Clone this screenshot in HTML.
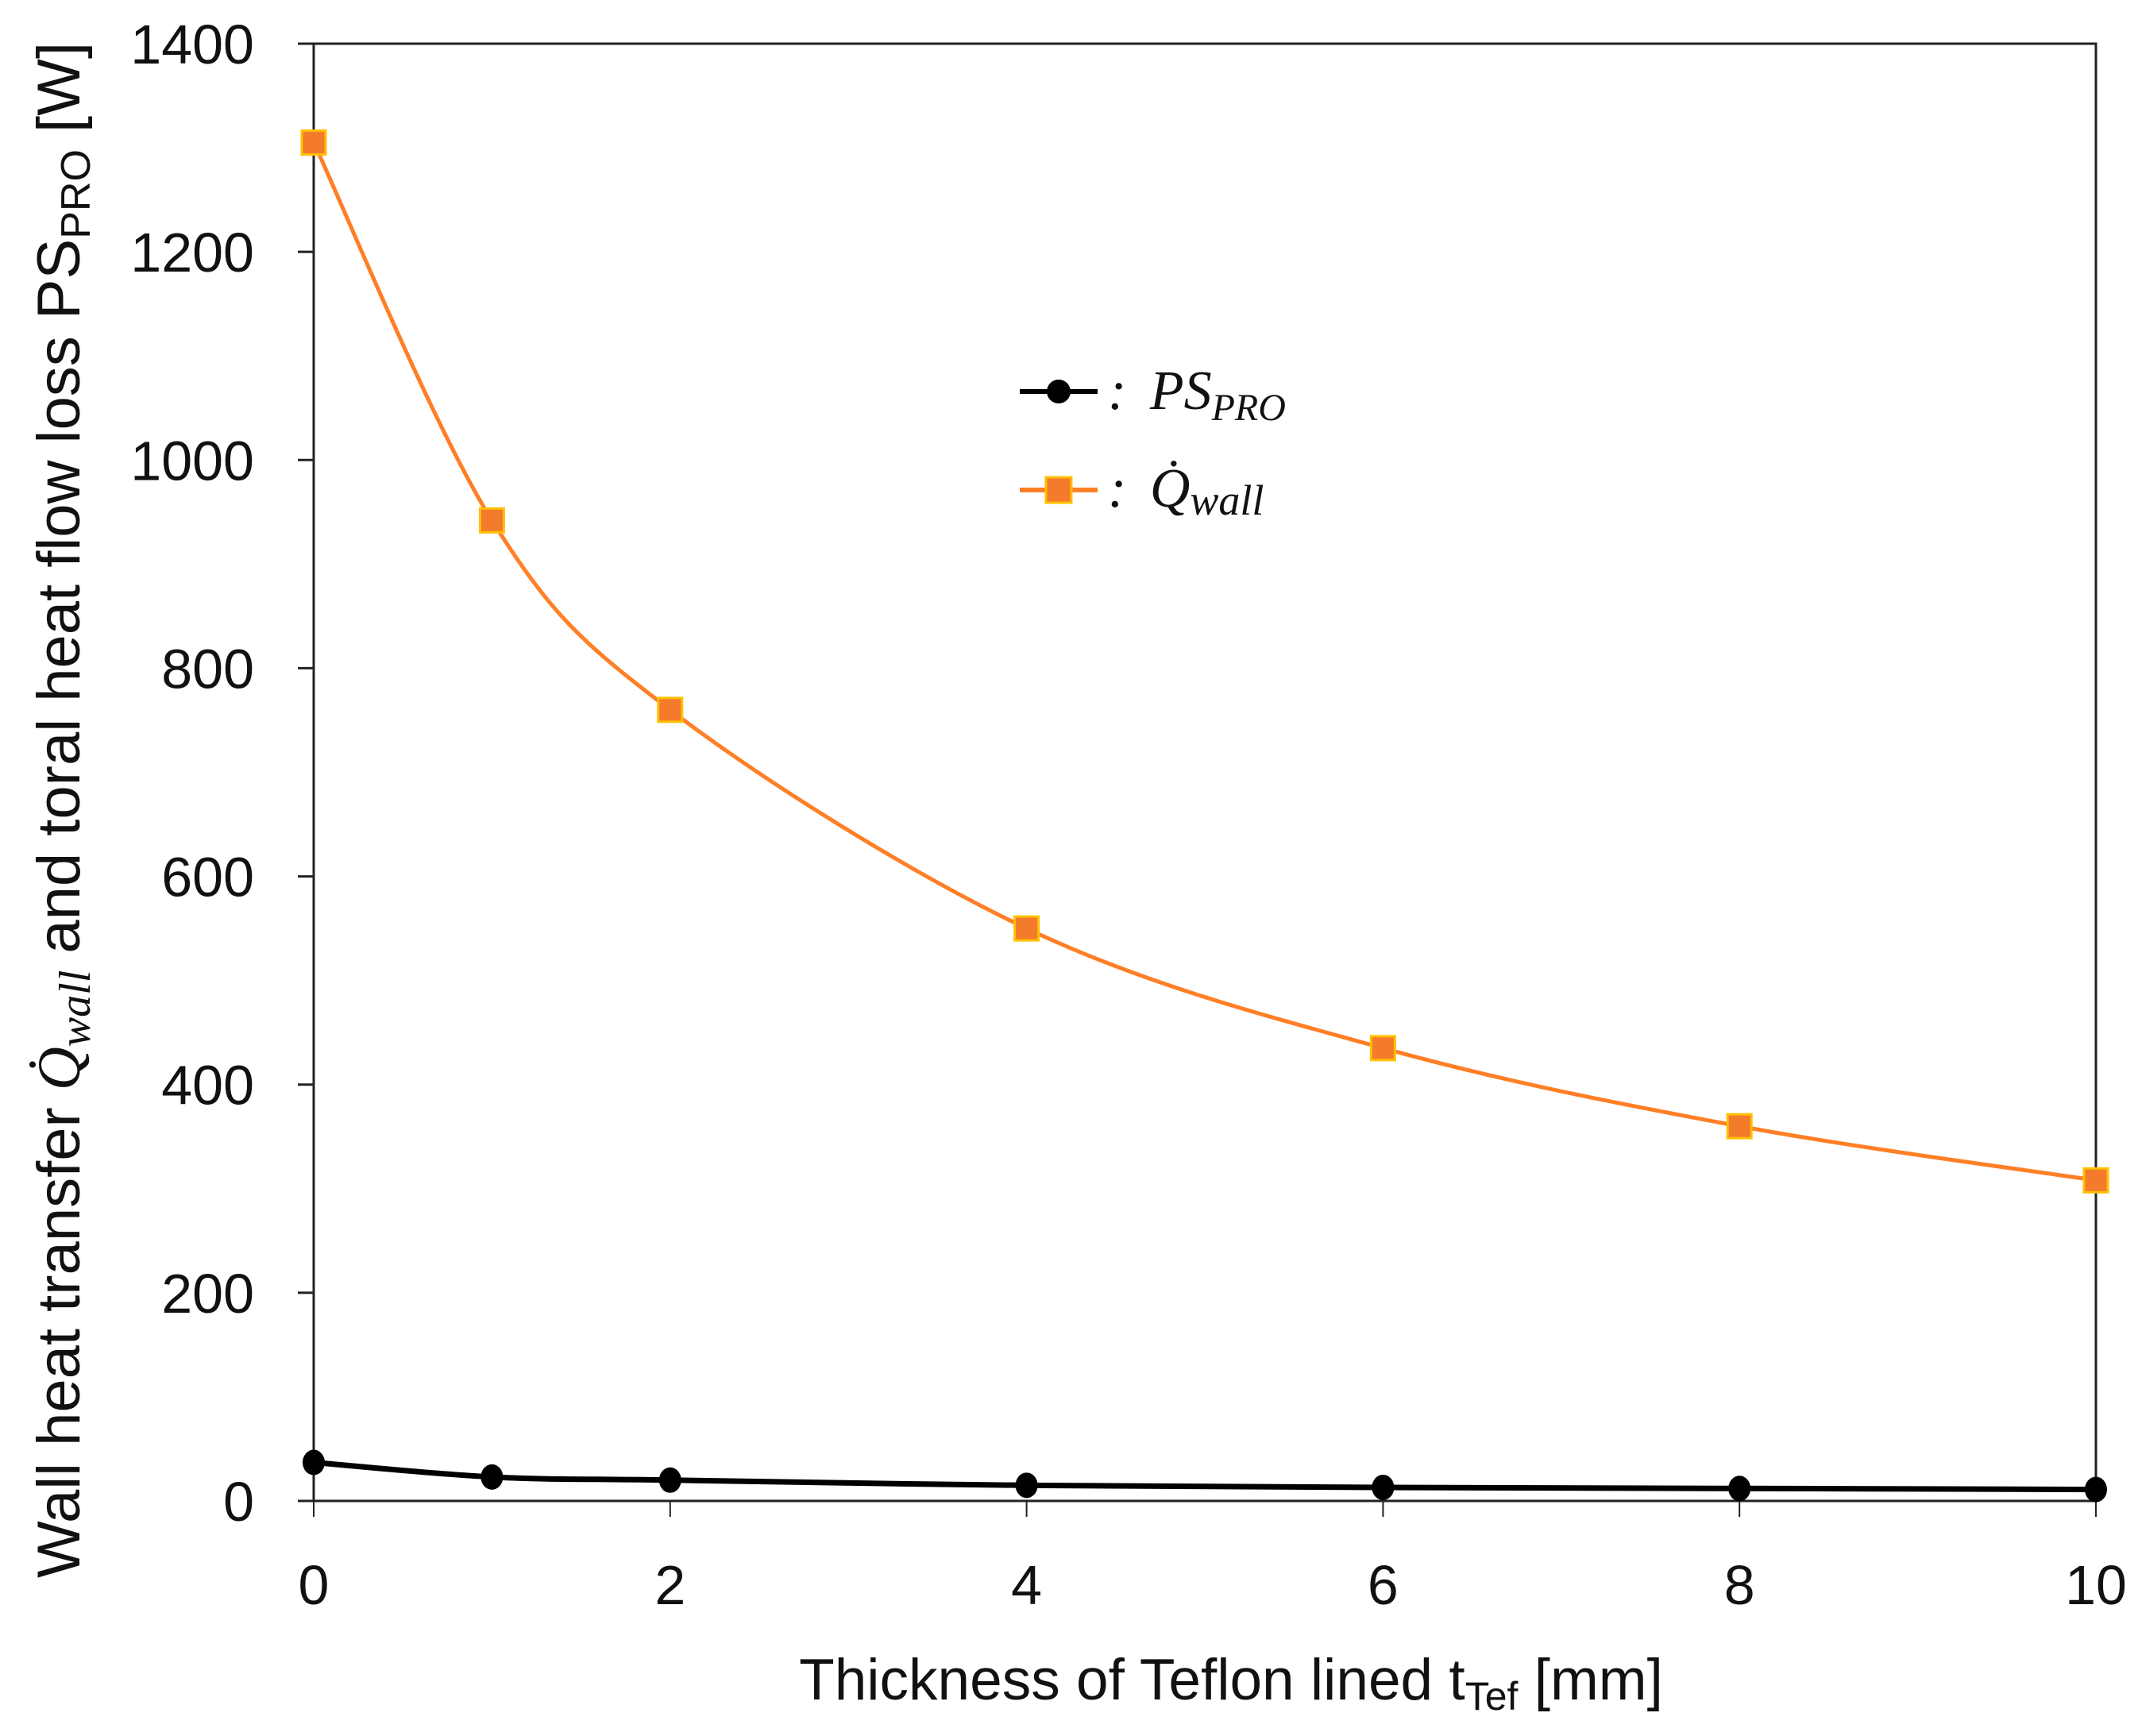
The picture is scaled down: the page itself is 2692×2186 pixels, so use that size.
<!DOCTYPE html>
<html><head><meta charset="utf-8"><style>
html,body{margin:0;padding:0;background:#fff;}
svg{display:block;}
text{font-family:"Liberation Sans",sans-serif;fill:#111;}
</style></head><body>
<svg id="chart" width="2692" height="2186" viewBox="0 0 2692 2186" xmlns="http://www.w3.org/2000/svg">
<rect x="0" y="0" width="2692" height="2186" fill="#fff"/>
<g id="axes"></g>
<g id="series"></g>
<g id="legend">
  <line x1="1284" y1="493" x2="1382" y2="493" stroke="#000" stroke-width="6"/>
  <circle cx="1333" cy="493" r="15" fill="#000"/>
  <text x="1395" y="515" style="font-family:'Liberation Serif',serif;font-size:70px;font-style:italic">: <tspan dx="12">PS</tspan><tspan dy="14" font-size="48">PRO</tspan></text>
  <line x1="1284" y1="617" x2="1382" y2="617" stroke="#ff7f27" stroke-width="6"/>
  <rect x="1317" y="601" width="32" height="32" fill="#f47a2c" stroke="#ffc000" stroke-width="3"/>
  <text x="1395" y="638" style="font-family:'Liberation Serif',serif;font-size:70px;font-style:italic">: <tspan dx="12">Q̇</tspan><tspan dy="10" font-size="54">wall</tspan></text>
</g>
<text x="1550" y="2140" text-anchor="middle" font-size="73">Thickness of Teflon lined t<tspan dy="13" font-size="50">Tef</tspan><tspan dy="-13"> [mm]</tspan></text>
<text transform="translate(100,1020) rotate(-90)" text-anchor="middle" font-size="76">Wall heat transfer <tspan style="font-family:'Liberation Serif',serif;font-style:italic">Q̇</tspan><tspan dy="13" font-size="56" style="font-family:'Liberation Serif',serif;font-style:italic">wall</tspan><tspan dy="-13"> and  toral heat flow loss  PS</tspan><tspan dy="13" font-size="52">PRO</tspan><tspan dy="-13"> [W]</tspan></text>
</svg>
<script>
const xValues = [0, 1, 2, 4, 6, 8, 10];
const qWall = [1305, 942, 760, 550, 435, 360, 308];
const psPro = [37, 23, 20, 15, 13, 12, 11];
const xTicks = [0, 2, 4, 6, 8, 10];
const yTicks = [0, 200, 400, 600, 800, 1000, 1200, 1400];

const L = 395, R = 2639, T = 55, B = 1890;
const xMin = 0, xMax = 10, yMin = 0, yMax = 1400;
const sx = v => L + (v - xMin) / (xMax - xMin) * (R - L);
const sy = v => B - (v - yMin) / (yMax - yMin) * (B - T);
const NS = "http://www.w3.org/2000/svg";
function mk(tag, attrs, parent) {
  const e = document.createElementNS(NS, tag);
  for (const k in attrs) e.setAttribute(k, attrs[k]);
  parent.appendChild(e);
  return e;
}
const axes = document.getElementById('axes');
const frame = mk('rect', {x: L, y: T, width: R - L, height: B - T, fill: 'none', stroke: '#222', 'stroke-width': 3}, axes);


yTicks.forEach(v => {
  const t = mk('line', {x1: L - 20, x2: L, y1: sy(v), y2: sy(v), stroke: '#222', 'stroke-width': 3}, axes);
  
  
  const lb = mk('text', {x: L - 75, y: sy(v) + 25, 'text-anchor': 'end', 'font-size': 70}, axes);
  lb.textContent = v;
  
  
});
xTicks.forEach(v => {
  const t = mk('line', {x1: sx(v), x2: sx(v), y1: B, y2: B + 20, stroke: '#222', 'stroke-width': 2}, axes);
  
  
  const lb = mk('text', {x: sx(v), y: 2020, 'text-anchor': 'middle', 'font-size': 70}, axes);
  lb.textContent = v;
  
  
});
function smoothPath(xs, ys) {
  const p = xs.map((x, i) => [sx(x), sy(ys[i])]);
  let d = `M${p[0][0]},${p[0][1]}`;
  for (let i = 0; i < p.length - 1; i++) {
    const p0 = p[i - 1] || p[i], p1 = p[i], p2 = p[i + 1], p3 = p[i + 2] || p2;
    const c1 = [p1[0] + (p2[0] - p0[0]) / 6, p1[1] + (p2[1] - p0[1]) / 6];
    const c2 = [p2[0] - (p3[0] - p1[0]) / 6, p2[1] - (p3[1] - p1[1]) / 6];
    d += ` C${c1[0]},${c1[1]} ${c2[0]},${c2[1]} ${p2[0]},${p2[1]}`;
  }
  return d;
}
const series = document.getElementById('series');
const qLine = mk('path', {d: smoothPath(xValues, qWall), fill: 'none', stroke: '#ff7f27', 'stroke-width': 5}, series);


const psLine = mk('path', {d: smoothPath(xValues, psPro), fill: 'none', stroke: '#000', 'stroke-width': 7}, series);


xValues.forEach((x, i) => {
  const m = mk('rect', {x: sx(x) - 15, y: sy(qWall[i]) - 15, width: 30, height: 30, fill: '#f47a2c', stroke: '#ffc000', 'stroke-width': 3}, series);
  
  
  const c = mk('ellipse', {cx: sx(x), cy: sy(psPro[i]), rx: 14, ry: 16, fill: '#000'}, series);
  
  
});
</script>
</body></html>
